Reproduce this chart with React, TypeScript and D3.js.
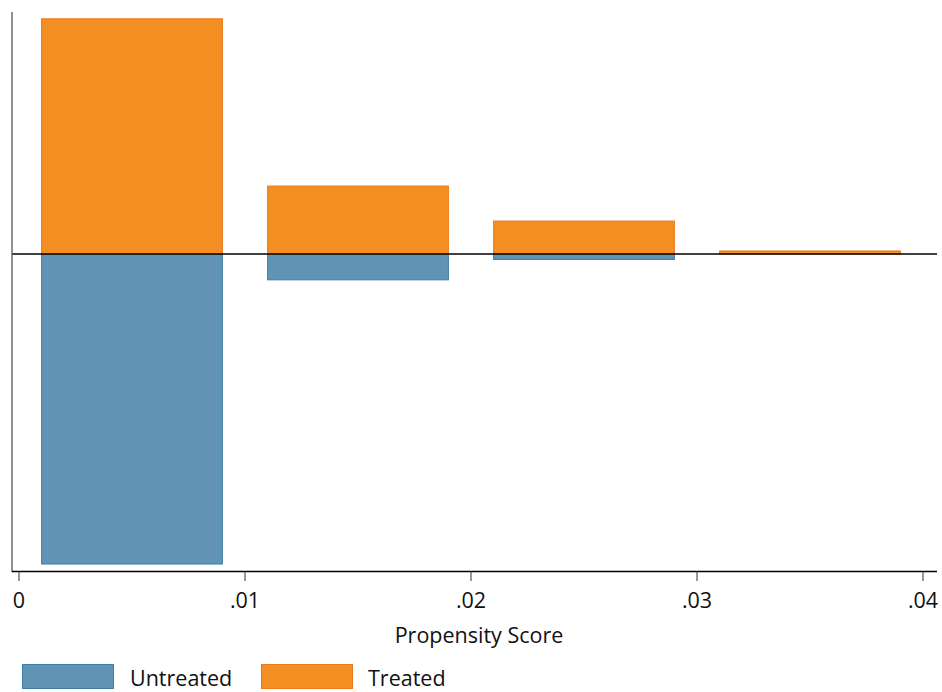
import React from "react";
import * as d3 from "d3";

const binStarts = [0.001, 0.011, 0.021, 0.031];
const binEnds = [0.009, 0.019, 0.029, 0.039];
const treated = [69.2, 20.0, 9.7, 0.9];
const untreated = [91.2, 7.6, 1.6, 0];
const xTicks = [0, 0.01, 0.02, 0.03, 0.04];
const xTickLabels = ["0", ".01", ".02", ".03", ".04"];
const seriesNames = ["Untreated", "Treated"];

const W = 942, H = 692;
const FONT = "'Open Sans', Lato, sans-serif";
const FS = 21.5;
const ORANGE = "#f28e22", ORANGE_S = "#ec7a1c";
const BLUE = "#6194b4", BLUE_S = "#3d7fa8";

export default function App() {
  const x = d3.scaleLinear().domain([0, 0.04]).range([19, 923]);
  const y = d3.scaleLinear().domain([-93.25, 71.2]).range([571, 12]);
  const left = 12, right = 937;
  return (
    <svg width={W} height={H} style={{ position: "absolute", left: 0, top: 0, background: "#fff" }}>
      <rect x={0} y={0} width={W} height={H} fill="#fff" />
      {binStarts.map((s, i) => (
        <g key={i}>
          {untreated[i] > 0 && (
            <rect x={x(s)} y={y(0)} width={x(binEnds[i]) - x(s)} height={y(-untreated[i]) - y(0)}
              fill={BLUE} stroke={BLUE_S} strokeWidth={1} />
          )}
          <rect x={x(s)} y={y(treated[i])} width={x(binEnds[i]) - x(s)} height={y(0) - y(treated[i])}
            fill={ORANGE} stroke={ORANGE_S} strokeWidth={1} />
        </g>
      ))}
      <line x1={left} x2={right} y1={y(0)} y2={y(0)} stroke="#000" strokeWidth={1.4} />
      <line x1={left} x2={left} y1={12} y2={572} stroke="#555" strokeWidth={1.3} />
      <line x1={left} x2={right} y1={571.5} y2={571.5} stroke="#000" strokeWidth={1.3} />
      {xTicks.map((t, i) => (
        <g key={i}>
          <line x1={x(t)} x2={x(t)} y1={571.5} y2={581} stroke="#555" strokeWidth={1.2} />
          <text x={x(t)} y={608} textAnchor="middle" fontFamily={FONT} fontSize={FS} fill="#111">
            {xTickLabels[i]}
          </text>
        </g>
      ))}
      <text x={479} y={643} textAnchor="middle" fontFamily={FONT} fontSize={FS} fill="#111">
        Propensity Score
      </text>
      <rect x={22.5} y={664.5} width={91} height={24} fill={BLUE} stroke={BLUE_S} strokeWidth={1} />
      <text x={130} y={686} fontFamily={FONT} fontSize={FS} fill="#111">{seriesNames[0]}</text>
      <rect x={261.5} y={664.5} width={91} height={24} fill={ORANGE} stroke={ORANGE_S} strokeWidth={1} />
      <text x={368} y={686} fontFamily={FONT} fontSize={FS} fill="#111">{seriesNames[1]}</text>
    </svg>
  );
}
